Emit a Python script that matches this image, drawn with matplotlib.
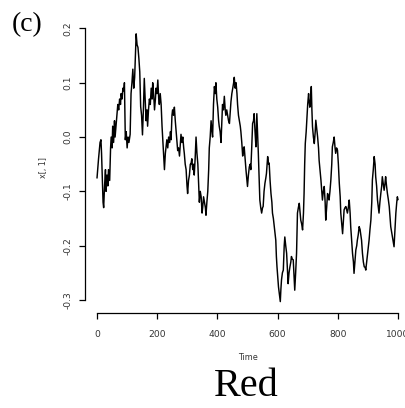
import matplotlib
matplotlib.use("Agg")
import matplotlib.pyplot as plt
from matplotlib.ticker import FixedLocator, FixedFormatter

# series (time, value)
time = [0, 5, 10, 13, 15, 20, 22, 25, 28, 30, 33, 36, 38, 42, 45, 47, 50, 52, 55, 58,
        60, 63, 66, 69, 72, 75, 78, 80, 83, 86, 89, 91, 94, 97, 100, 103, 106, 110, 113, 116,
        119, 122, 125, 128, 130, 133, 136, 139, 142, 145, 148, 151, 154, 157, 160, 163, 166, 168, 171, 174,
        177, 180, 183, 185, 188, 191, 194, 196, 199, 202, 205, 207, 210, 213, 216, 218, 221, 224, 227, 229,
        232, 235, 238, 241, 244, 246, 249, 251, 254, 257, 260, 263, 266, 268, 271, 274, 277, 279, 282, 285,
        288, 290, 293, 296, 299, 301, 304, 307, 310, 312, 315, 318, 321, 323, 326, 329, 332, 335, 338, 340,
        343, 346, 349, 351, 354, 357, 360, 362, 365, 368, 371, 373, 376, 379, 382, 384, 387, 390, 393, 395,
        398, 401, 404, 406, 409, 412, 415, 417, 420, 423, 426, 428, 431, 434, 437, 440, 443, 445, 448, 451,
        454, 456, 459, 462, 465, 467, 470, 473, 476, 478, 481, 484, 487, 489, 492, 495, 498, 500, 503, 506,
        509, 511, 514, 517, 520, 522, 525, 528, 531, 534, 536, 539, 541, 544, 547, 550, 552, 555, 558, 561,
        563, 565, 567, 570, 572, 575, 578, 581, 583, 586, 589, 592, 594, 596, 598, 601, 603, 606, 609, 611,
        613, 616, 619, 622, 624, 627, 630, 633, 635, 638, 641, 644, 646, 649, 652, 655, 657, 660, 663, 666,
        669, 672, 675, 677, 680, 683, 686, 688, 690, 692, 695, 697, 700, 703, 705, 707, 710, 712, 714, 716,
        719, 722, 725, 727, 730, 733, 736, 738, 741, 744, 747, 749, 752, 755, 758, 760, 763, 766, 769, 771,
        774, 777, 780, 782, 785, 788, 791, 793, 796, 799, 802, 805, 808, 810, 813, 816, 819, 821, 824, 827,
        830, 832, 835, 838, 841, 843, 846, 849, 852, 854, 857, 860, 863, 865, 868, 871, 874, 876, 879, 882,
        885, 888, 891, 893, 896, 899, 902, 904, 907, 910, 913, 915, 918, 921, 924, 926, 929, 932, 935, 937,
        940, 943, 946, 948, 951, 954, 957, 959, 962, 965, 968, 971, 974, 976, 979, 982, 985, 987, 990, 993,
        996, 998, 1000]
value = [-0.075, -0.04, -0.01, -0.005, -0.03, -0.12, -0.13, -0.09, -0.06, -0.10, -0.07, -0.09, -0.06, -0.08, -0.02, 0.0, -0.02, 0.02, -0.01, 0.03,
         0.0, 0.02, 0.04, 0.06, 0.05, 0.07, 0.06, 0.08, 0.07, 0.09, 0.085, 0.10, -0.005, 0.01, -0.02, 0.0, -0.01, 0.005, 0.08, 0.10,
         0.125, 0.09, 0.11, 0.16, 0.19, 0.17, 0.165, 0.145, 0.12, 0.056, 0.04, 0.004, 0.05, 0.108, 0.07, 0.03, 0.05, 0.02, 0.05, 0.07,
         0.06, 0.09, 0.07, 0.10, 0.08, 0.05, 0.07, 0.09, 0.08, 0.105, 0.07, 0.06, 0.08, 0.06, 0.02, 0.0, -0.03, -0.06, -0.03, -0.02,
         -0.005, -0.02, 0.0, -0.01, 0.01, -0.005, 0.04, 0.05, 0.04, 0.055, 0.03, 0.01, -0.01, -0.025, -0.02, -0.035, -0.01, 0.005, -0.01, 0.0,
         -0.02, -0.03, -0.05, -0.06, -0.09, -0.104, -0.08, -0.07, -0.05, -0.05, -0.04, -0.06, -0.05, -0.07, -0.04, 0.0, -0.03, -0.05, -0.09, -0.12,
         -0.10, -0.11, -0.14, -0.13, -0.11, -0.12, -0.13, -0.144, -0.12, -0.10, -0.06, -0.02, 0.0, 0.03, 0.01, 0.0, 0.06, 0.093, 0.08, 0.10,
         0.07, 0.055, 0.03, 0.02, 0.01, -0.01, 0.03, 0.06, 0.05, 0.075, 0.05, 0.04, 0.05, 0.04, 0.03, 0.025, 0.05, 0.065, 0.08, 0.09,
         0.10, 0.11, 0.09, 0.10, 0.08, 0.06, 0.04, 0.03, 0.02, 0.01, -0.01, -0.035, -0.02, -0.018, -0.04, -0.061, -0.08, -0.091, -0.07, -0.055,
         -0.05, -0.06, -0.02, 0.025, 0.03, 0.043, 0.01, -0.018, 0.043, 0.0, -0.03, -0.08, -0.116, -0.13, -0.14, -0.13, -0.128, -0.10, -0.085, -0.075,
         -0.067, -0.05, -0.036, -0.05, -0.048, -0.08, -0.104, -0.12, -0.14, -0.15, -0.165, -0.18, -0.19, -0.22, -0.239, -0.26, -0.276, -0.29, -0.303, -0.28,
         -0.263, -0.25, -0.245, -0.20, -0.184, -0.20, -0.214, -0.25, -0.27, -0.25, -0.239, -0.23, -0.22, -0.225, -0.226, -0.26, -0.282, -0.25, -0.214, -0.14,
         -0.13, -0.122, -0.14, -0.153, -0.16, -0.171, -0.14, -0.104, -0.05, -0.012, 0.01, 0.031, 0.06, 0.08, 0.065, 0.055, 0.07, 0.093, 0.05, 0.019,
         0.0, -0.012, 0.01, 0.031, 0.015, 0.0, -0.02, -0.043, -0.06, -0.079, -0.10, -0.116, -0.10, -0.091, -0.12, -0.153, -0.13, -0.104, -0.11, -0.116,
         -0.10, -0.079, -0.05, -0.018, -0.01, 0.0, -0.02, -0.03, -0.02, -0.024, -0.05, -0.085, -0.11, -0.14, -0.16, -0.178, -0.15, -0.134, -0.13, -0.128,
         -0.135, -0.14, -0.13, -0.116, -0.14, -0.165, -0.19, -0.214, -0.23, -0.251, -0.23, -0.208, -0.20, -0.19, -0.18, -0.165, -0.17, -0.178, -0.19, -0.214,
         -0.23, -0.239, -0.24, -0.245, -0.23, -0.214, -0.20, -0.19, -0.17, -0.153, -0.12, -0.079, -0.06, -0.036, -0.05, -0.073, -0.09, -0.116, -0.13, -0.14,
         -0.12, -0.104, -0.09, -0.073, -0.085, -0.098, -0.085, -0.073, -0.09, -0.104, -0.115, -0.128, -0.15, -0.165, -0.175, -0.184, -0.195, -0.202, -0.17, -0.14,
         -0.12, -0.11, -0.115]

xticks = [0, 200, 400, 600, 800, 1000]
yticks = [-0.3, -0.2, -0.1, 0.0, 0.1, 0.2]
ytick_labels = ["-0.3", "-0.2", "-0.1", "0.0", "0.1", "0.2"]

W, H = 406, 408
fig = plt.figure(figsize=(W / 100, H / 100), dpi=100)
fig.patch.set_facecolor("white")

# plot region in pixels: x 85..410, y 23..313 (from top)
ax = fig.add_axes([85 / W, (H - 313) / H, 325 / W, 290 / H])
ax.plot(time, value, color="black", lw=1.05)
ax.set_xlim(-40, 1040)
ax.set_ylim(-0.324, 0.21)

for s in ["top", "right"]:
    ax.spines[s].set_visible(False)
ax.spines["left"].set_bounds(-0.3, 0.2)
ax.spines["bottom"].set_bounds(0, 1000)
ax.spines["left"].set_linewidth(0.9)
ax.spines["bottom"].set_linewidth(0.9)

ax.xaxis.set_major_locator(FixedLocator(xticks))
ax.yaxis.set_major_locator(FixedLocator(yticks))
ax.yaxis.set_major_formatter(FixedFormatter(ytick_labels))
ax.tick_params(axis="both", length=4, width=0.9, labelsize=6.6, colors="black",
               labelcolor="#333333")
ax.tick_params(axis="x", pad=8)
ax.tick_params(axis="y", pad=5)
for lab in ax.get_yticklabels():
    lab.set_rotation(90)
    lab.set_va("center")

ax.set_xlabel("Time", fontsize=5.8, color="#333333", labelpad=10)
ax.set_ylabel("x[, 1]", fontsize=5.8, color="#333333", labelpad=11)

fig.text(12 / W, 1 - 25 / H, "(c)", fontsize=20, family="Liberation Serif",
         ha="left", va="center")
fig.text(246 / W, 1 - 386 / H, "Red", fontsize=29, family="Liberation Serif",
         ha="center", va="center")

fig.savefig("out.png", dpi=100)
